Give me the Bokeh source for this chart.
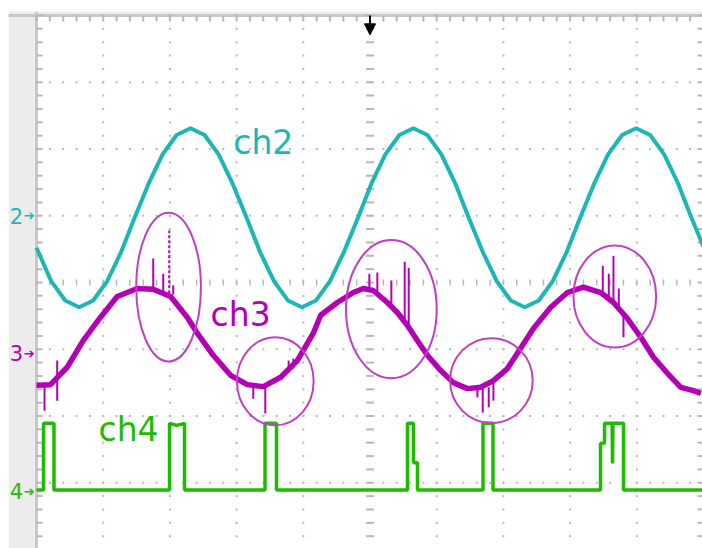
import numpy as np
from bokeh.plotting import figure
from bokeh.models import Range1d, Arrow, NormalHead, BoxAnnotation, Span
from bokeh.embed import file_html
from bokeh.resources import INLINE
from bokeh.core.properties import value

# ---------------- data (x in time divisions, y in screen divisions) ----------------
ch2_x = [0.00, 0.22, 0.43, 0.64, 0.85, 1.06, 1.27, 1.47, 1.68, 1.89, 2.10, 2.31, 2.52,
         2.73, 2.94, 3.15, 3.35, 3.56, 3.77, 3.98, 4.19, 4.40, 4.61, 4.82, 5.02, 5.23,
         5.44, 5.65, 5.86, 6.07, 6.28, 6.48, 6.69, 6.90, 7.11, 7.32, 7.53, 7.74, 7.95,
         8.15, 8.36, 8.57, 8.78, 8.99, 9.20, 9.41, 9.62, 9.82, 10.03]
ch2_y = [4.52, 4.02, 3.73, 3.63, 3.73, 4.02, 4.46, 4.97, 5.48, 5.92, 6.21, 6.31, 6.21,
         5.92, 5.48, 4.97, 4.46, 4.02, 3.73, 3.63, 3.73, 4.02, 4.46, 4.97, 5.48, 5.92,
         6.21, 6.31, 6.21, 5.92, 5.48, 4.97, 4.46, 4.02, 3.73, 3.63, 3.73, 4.02, 4.46,
         4.97, 5.48, 5.92, 6.21, 6.31, 6.21, 5.92, 5.48, 4.97, 4.46]

ch3_x = [0.00, 0.21, 0.46, 0.70, 0.96, 1.21, 1.51, 1.75, 2.01, 2.26, 2.41, 2.65, 2.91,
         3.16, 3.40, 3.66, 3.91, 4.15, 4.26, 4.51, 4.75, 4.90, 5.05, 5.26, 5.41, 5.56,
         5.71, 5.86, 6.06, 6.25, 6.46, 6.66, 6.85, 7.06, 7.21, 7.45, 7.71, 7.96, 8.20,
         8.46, 8.65, 8.86, 9.06, 9.25, 9.46, 9.66, 9.85, 9.96]
ch3_y = [2.46, 2.47, 2.73, 3.13, 3.48, 3.79, 3.91, 3.90, 3.79, 3.48, 3.24, 2.91, 2.61,
         2.47, 2.44, 2.58, 2.83, 3.24, 3.51, 3.70, 3.85, 3.91, 3.88, 3.70, 3.55, 3.36,
         3.13, 2.91, 2.68, 2.50, 2.41, 2.43, 2.53, 2.71, 2.94, 3.31, 3.63, 3.85, 3.93,
         3.85, 3.70, 3.46, 3.18, 2.88, 2.64, 2.43, 2.38, 2.34]

# glitches on ch3: position, start level, end level
spike_x = [0.12, 0.31, 1.75, 1.90, 2.05, 3.25, 3.43, 3.78, 3.85, 4.99, 5.11, 5.32,
           5.52, 5.58, 6.61, 6.69, 6.78, 6.85, 8.49, 8.58, 8.65, 8.73, 8.80]
spike_y0 = [2.46, 2.83, 3.90, 3.87, 3.82, 2.44, 2.44, 2.65, 2.71, 3.90, 3.87, 3.66,
            3.40, 3.31, 2.41, 2.43, 2.43, 2.52, 3.84, 3.79, 3.70, 3.61, 3.51]
spike_y1 = [2.08, 2.23, 4.36, 4.13, 3.96, 2.26, 2.04, 2.83, 2.86, 4.13, 4.15, 4.03,
            4.31, 4.22, 2.28, 2.05, 2.13, 2.23, 4.25, 4.13, 4.40, 3.91, 3.18]
tall_spike_x = [1.99]
tall_spike_y0 = [3.84]
tall_spike_y1 = [4.78]

ch4_x = [0.00, 0.105, 0.105, 0.262, 0.262,
         1.994, 1.994, 2.10, 2.219, 2.219,
         3.426, 3.426, 3.598, 3.598,
         5.562, 5.562, 5.652, 5.652, 5.712, 5.712,
         6.694, 6.694, 6.844, 6.844,
         8.456, 8.456, 8.516, 8.516, 8.630, 8.636, 8.642, 8.801, 8.801, 10.0]
ch4_y = [0.89, 0.89, 1.89, 1.89, 0.89,
         0.89, 1.89, 1.86, 1.89, 0.89,
         0.89, 1.89, 1.89, 0.89,
         0.89, 1.89, 1.89, 1.30, 1.30, 0.89,
         0.89, 1.89, 1.89, 0.89,
         0.89, 1.59, 1.59, 1.89, 1.89, 1.29, 1.89, 1.89, 0.89, 0.89]

ring_x = [1.98, 3.58, 5.32, 6.82, 8.67]
ring_y = [3.93, 2.52, 3.60, 2.53, 3.79]
ring_w = [0.97, 1.15, 1.36, 1.24, 1.24]
ring_h = [2.23, 1.32, 2.07, 1.27, 1.53]

label_text = ["ch2", "ch3", "ch4"]
label_x = [2.95, 2.61, 0.93]
label_y = [6.10, 3.52, 1.80]

marker_text = ["2", "3", "4"]
marker_y = [5.00, 2.94, 0.87]
trigger_x = 5.0

C2 = "#1cb6b6"
C3 = "#b400b4"
C4 = "#1fbb00"
RING = "#c23ec2"
GRID = "#b8b8b8"
FRAME = "#c8c8c8"
BAND = "#ececec"

p = figure(width=702, height=548, x_range=Range1d(-0.42, 9.985), y_range=Range1d(0.015, 8.06),
           output_backend="svg", toolbar_location=None,
           x_axis_location=None, y_axis_location=None,
           min_border_left=8, min_border_top=11, min_border_right=0, min_border_bottom=0,
           border_fill_color="white", background_fill_color="white",
           outline_line_color=None)
p.xgrid.visible = False
p.ygrid.visible = False

# screen bezel
p.add_layout(BoxAnnotation(right=0, fill_color=BAND, fill_alpha=1, line_color=None, level="underlay"))
p.add_layout(BoxAnnotation(bottom=8.0, fill_color=BAND, fill_alpha=1, line_color=None, level="underlay"))
p.add_layout(Span(location=0, dimension="height", line_color=FRAME, line_width=3, level="underlay"))
p.add_layout(Span(location=8.0, dimension="width", line_color=FRAME, line_width=3, level="underlay"))

fine = np.round(np.arange(0, 10.01, 0.2), 2)
fine_y = np.round(np.arange(0, 8.01, 0.2), 2)
tick_len = 0.09

# edge ticks
p.segment(x0=np.zeros(len(fine_y)), y0=fine_y, x1=np.full(len(fine_y), tick_len), y1=fine_y,
          line_color=GRID, line_width=2)
p.segment(x0=np.full(len(fine_y), 10.0), y0=fine_y, x1=np.full(len(fine_y), 10.0 - tick_len),
          y1=fine_y, line_color=GRID, line_width=2)
p.segment(x0=fine, y0=np.full(len(fine), 8.0), x1=fine, y1=np.full(len(fine), 8.0 - tick_len),
          line_color=GRID, line_width=2)

# graticule dots
vx, vy = np.meshgrid([1, 2, 3, 4, 6, 7, 8, 9], fine_y)
hx, hy = np.meshgrid(fine, [1, 2, 3, 5, 6, 7])
p.scatter(np.concatenate([vx.ravel(), hx.ravel()]), np.concatenate([vy.ravel(), hy.ravel()]),
          marker="square", size=2, fill_color=GRID, line_color=None)
# center cross ticks
p.scatter(np.full(len(fine_y), 5.0), fine_y, marker="dash", size=8, line_color=GRID, line_width=2)
p.scatter(fine, np.full(len(fine), 4.0), marker="dash", angle=np.pi / 2, size=6,
          line_color=GRID, line_width=1.5)

# traces
p.line(ch2_x, ch2_y, line_color=C2, line_width=4)
p.line(ch4_x, ch4_y, line_color=C4, line_width=3.5)
p.line(ch3_x, ch3_y, line_color=C3, line_width=5.5)
p.segment(x0=spike_x, y0=spike_y0, x1=spike_x, y1=spike_y1, line_color=C3, line_width=2)
p.segment(x0=tall_spike_x, y0=tall_spike_y0, x1=tall_spike_x, y1=tall_spike_y1,
          line_color=C3, line_width=2, line_dash="3 2")

p.ellipse(x=ring_x, y=ring_y, width=ring_w, height=ring_h, fill_color=None,
          line_color=RING, line_width=2)

p.text(x=label_x, y=label_y, text=label_text, text_color=[C2, C3, C4],
       text_font=value("DejaVu Sans"), text_font_size="33px", text_baseline="alphabetic")

# channel reference markers on the left bezel
p.text(x=[-0.40] * 3, y=marker_y, text=marker_text, text_color=[C2, C3, C4],
       text_font=value("DejaVu Sans"), text_font_size="21px", text_baseline="middle")
p.text(x=[-0.19] * 3, y=marker_y, text=["➔"] * 3, text_color=[C2, C3, C4],
       text_font=value("DejaVu Sans"), text_font_size="13px", text_baseline="middle")

p.add_layout(Arrow(end=NormalHead(size=11, fill_color="black", line_color="black"),
                   x_start=trigger_x, y_start=8.0, x_end=trigger_x, y_end=7.71,
                   line_color="black", line_width=2))

open("out.html", "w").write(file_html(p, INLINE))
